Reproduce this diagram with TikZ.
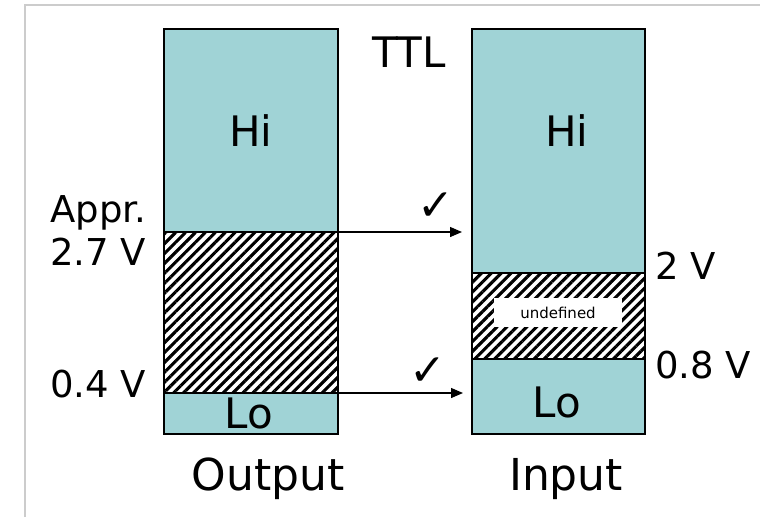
\documentclass[tikz,border=0pt]{standalone}
\usepackage{fontspec}
\setmainfont{DejaVu Sans}
\usetikzlibrary{arrows.meta,patterns.meta}

\definecolor{levelfill}{RGB}{160,211,214}

\tikzset{
  level/.style={draw=black, line width=1.2pt, fill=levelfill, minimum width=174pt,
    inner sep=0pt, outer sep=0pt},
  undef/.style={draw=black, line width=1.2pt, minimum width=174pt, inner sep=0pt, outer sep=0pt,
    pattern={Lines[angle=45,distance=7pt,line width=3.1pt]}},
  big/.style={font=\fontsize{42}{50}\selectfont, inner sep=0pt, anchor=base},
  volt/.style={font=\fontsize{37}{44}\selectfont, inner sep=0pt, anchor=base west},
  ok/.style={font=\fontsize{44}{50}\selectfont, inner sep=0pt},
  link/.style={line width=1.3pt, -{Triangle[length=12pt,width=10pt]}}
}

\begin{document}
\begin{tikzpicture}[x=1pt,y=-1pt]
  \useasboundingbox (0,0) rectangle (760,517);

  % keret
  \draw[black!20, line width=2pt] (25,517) -- (25,5) -- (760,5);

  % output oszlop
  \node[level, minimum height=203pt] (outhi) at (251,130.5) {};
  \node[undef, minimum height=161pt] (outx) at (251,312.5) {};
  \node[level, minimum height=41pt] (outlo) at (251,413.5) {};

  % input oszlop
  \node[level, minimum width=173pt, minimum height=244pt] (inhi) at (558.5,151) {};
  \node[undef, minimum width=173pt, minimum height=86pt] (inx) at (558.5,316) {};
  \node[level, minimum width=173pt, minimum height=75pt] (inlo) at (558.5,396.5) {};
  \node[fill=white, minimum width=128pt, minimum height=29pt, inner sep=0pt,
    font=\fontsize{15}{18}\selectfont] (undeftext) at (558,312.5) {undefined};

  % feliratok
  \node[big] (ttl) at (409,67) {TTL};
  \node[big] (outhitext) at (251,146) {Hi};
  \node[big] (inhitext) at (567,146) {Hi};
  \node[big] (outlotext) at (249,428) {Lo};
  \node[big] (inlotext) at (557,417) {Lo};
  \node[big, font=\fontsize{44}{52}\selectfont] (outname) at (268,490) {Output};
  \node[big, font=\fontsize{44}{52}\selectfont] (inname) at (566,490) {Input};

  % feszultsegek
  \node[volt] (appr) at (50,222) {Appr.};
  \node[volt] (outhigh) at (50,265) {2.7 V};
  \node[volt] (outlow) at (50,397) {0.4 V};
  \node[volt] (inhigh) at (655,279) {2 V};
  \node[volt] (inlow) at (655,378) {0.8 V};

  % nyilak
  \coordinate (hiend) at (462,232);
  \coordinate (loend) at (463,393);
  \draw[link] (outx.north east) -- (hiend);
  \draw[link] (outlo.north east) -- (loend);
  \node[ok] (hiok) at (436,207) {✓};
  \node[ok] (look) at (428,372) {✓};
\end{tikzpicture}
\end{document}
